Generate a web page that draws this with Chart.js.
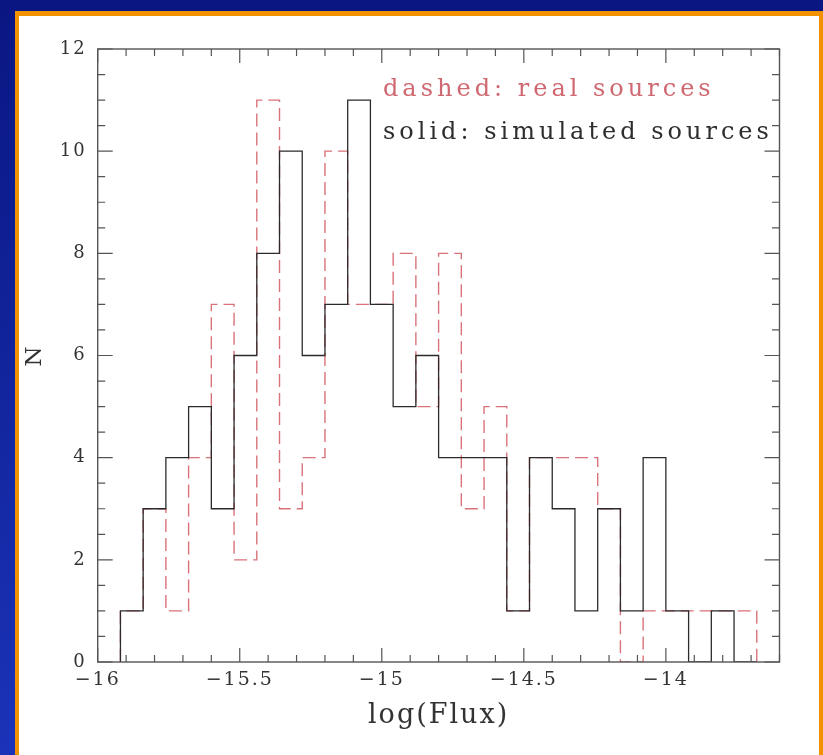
<!DOCTYPE html>
<html>
<head>
<meta charset="utf-8">
<script src="https://cdn.jsdelivr.net/npm/chart.js@4/dist/chart.umd.min.js"></script>
<style>
  html, body {
    margin: 0;
    width: 823px;
    height: 755px;
    overflow: hidden;
    background: linear-gradient(to bottom, #0a1682, #1a33b8);
  }
  .panel {
    position: absolute;
    left: 15px;
    top: 11px;
    right: 0;
    height: 760px;
    background: #fff;
    border-left: 4px solid #f39200;
    border-top: 5px solid #f39200;
    border-right: 4px solid #f39200;
  }
  #chart {
    position: absolute;
    left: 0;
    top: 0;
  }
</style>
</head>
<body>
<div class="panel"></div>
<canvas id="chart" width="823" height="755"></canvas>
<script>
// left edge of each flux bin, log(Flux)
const binStarts = [
  -15.92, -15.84, -15.76, -15.68, -15.6, -15.52, -15.44, -15.36, -15.28, -15.2,
  -15.12, -15.04, -14.96, -14.88, -14.8, -14.72, -14.64, -14.56, -14.48, -14.4,
  -14.32, -14.24, -14.16, -14.08, -14.0, -13.92, -13.84, -13.76,
];
const binWidth = 0.08;

// solid: simulated sources
const simulated = [
  1, 3, 4, 5, 3, 6, 8, 10, 6, 7,
  11, 7, 5, 6, 4, 4, 4, 1, 4, 3,
  1, 3, 1, 4, 1, 0, 1, 0,
];
// dashed: real sources
const real = [
  1, 3, 1, 4, 7, 2, 11, 3, 4, 10,
  7, 7, 8, 5, 8, 3, 5, 1, 4, 4,
  4, 3, 0, 1, 1, 1, 1, 1,
];

const xTickLabels = [-16, -15.5, -15, -14.5, -14];
const yTickLabels = [0, 2, 4, 6, 8, 10, 12];

const legendLines = [
  { text: "dashed: real sources", color: "#cf6870" },
  { text: "solid: simulated sources", color: "#2e2e2e" },
];

const outline = (values) => {
  const pts = [{ x: binStarts[0], y: 0 }];
  values.forEach((v, i) => pts.push({ x: binStarts[i], y: v }));
  pts.push({ x: binStarts[binStarts.length - 1] + binWidth, y: 0 });
  return pts;
};

const minus = (v) => String(v).replace("-", "\u2212");
const serif = "'DejaVu Serif', serif";

const spacing = {
  id: "spacing",
  beforeDraw(chart) {
    chart.ctx.letterSpacing = "2px";
  },
};

const frame = {
  id: "frame",
  afterDraw(chart) {
    const { ctx, chartArea: a, scales } = chart;
    const x = scales.x;
    const y = scales.y;
    ctx.save();
    ctx.strokeStyle = "#555";
    ctx.lineWidth = 1.4;
    ctx.strokeRect(a.left, a.top, a.right - a.left, a.bottom - a.top);

    ctx.beginPath();
    ctx.lineWidth = 1.2;
    for (let i = 0; i <= 24; i++) {
      const px = x.getPixelForValue(-16 + i * 0.1);
      const len = i % 5 === 0 ? 14 : 7;
      ctx.moveTo(px, a.bottom);
      ctx.lineTo(px, a.bottom - len);
      ctx.moveTo(px, a.top);
      ctx.lineTo(px, a.top + len);
    }
    for (let i = 0; i <= 24; i++) {
      const py = y.getPixelForValue(i * 0.5);
      const len = i % 4 === 0 ? 15 : 7.5;
      ctx.moveTo(a.left, py);
      ctx.lineTo(a.left + len, py);
      ctx.moveTo(a.right, py);
      ctx.lineTo(a.right - len, py);
    }
    ctx.stroke();

    ctx.letterSpacing = "4px";
    ctx.font = "24px " + serif;
    ctx.textAlign = "left";
    ctx.textBaseline = "alphabetic";
    legendLines.forEach((line, i) => {
      ctx.fillStyle = line.color;
      ctx.fillText(line.text, 383, 96 + i * 43);
    });
    ctx.restore();
  },
};

const chart = new Chart(document.getElementById("chart"), {
  type: "line",
  data: {
    datasets: [
      {
        label: "simulated",
        data: outline(simulated),
        stepped: "before",
        borderColor: "#2b2b2b",
        borderWidth: 1.3,
        pointRadius: 0,
        fill: false,
      },
      {
        label: "real",
        data: outline(real),
        stepped: "before",
        borderColor: "#d9727a",
        borderWidth: 1.4,
        borderDash: [13, 6],
        pointRadius: 0,
        fill: false,
      },
    ],
  },
  options: {
    responsive: false,
    animation: false,
    layout: {
      padding: { left: 0, top: 49, right: 43.5, bottom: 0 },
    },
    plugins: {
      legend: { display: false },
      tooltip: { enabled: false },
    },
    scales: {
      x: {
        type: "linear",
        min: -16,
        max: -13.6,
        grid: { display: false, drawTicks: false },
        border: { display: false },
        afterBuildTicks: (scale) => {
          scale.ticks = xTickLabels.map((v) => ({ value: v }));
        },
        afterFit: (scale) => {
          scale.height = 93;
        },
        ticks: {
          padding: 7,
          maxRotation: 0,
          autoSkip: false,
          color: "#333",
          font: { family: serif, size: 19 },
          callback: (v) => minus(v),
        },
        title: {
          display: true,
          text: "log(Flux)",
          color: "#333",
          font: { family: serif, size: 27 },
          padding: { top: 0, bottom: 23 },
        },
      },
      y: {
        min: 0,
        max: 12,
        grid: { display: false, drawTicks: false },
        border: { display: false },
        afterBuildTicks: (scale) => {
          scale.ticks = yTickLabels.map((v) => ({ value: v }));
        },
        afterFit: (scale) => {
          scale.width = 97.7;
        },
        ticks: {
          padding: 11,
          color: "#333",
          font: { family: serif, size: 18 },
        },
        title: {
          display: true,
          text: "N",
          color: "#333",
          font: { family: serif, size: 23 },
          padding: { top: 21, bottom: 0 },
        },
      },
    },
  },
  plugins: [spacing, frame],
});
</script>
</body>
</html>
